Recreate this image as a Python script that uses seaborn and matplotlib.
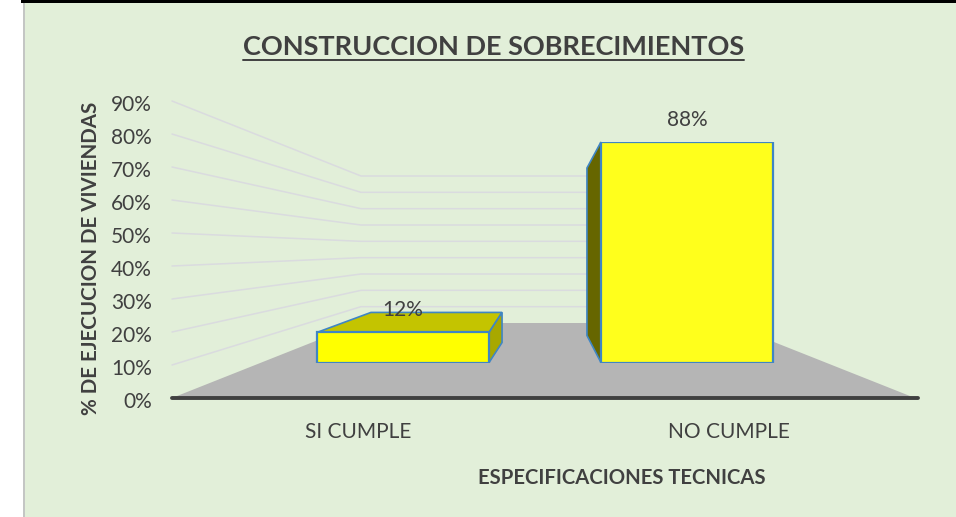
import matplotlib
matplotlib.use("Agg")
import matplotlib.pyplot as plt
from matplotlib.patches import Polygon, Rectangle
from matplotlib.transforms import ScaledTranslation
import pandas as pd
import seaborn as sns

# ---- data ----
categories = ["SI CUMPLE", "NO CUMPLE"]
values = [12, 88]
y_ticks = [0, 10, 20, 30, 40, 50, 60, 70, 80, 90]
title = "CONSTRUCCION DE SOBRECIMIENTOS"
xlabel = "ESPECIFICACIONES TECNICAS"
ylabel = "% DE EJECUCION DE VIVIENDAS"

# ---- style ----
W, H = 956, 517
BG = "#E2EFD9"
TXT = "#404040"
GRID = "#DADBDF"
FLOOR = "#B5B5B5"
EDGE = "#3F86C4"
FACES = ["#FFFF00", "#FFFF1C"]
FONT = "Lato"

sns.set_theme(style="white")
plt.rcParams["font.family"] = [FONT, "DejaVu Sans"]

fig = plt.figure(figsize=(W / 100, H / 100), dpi=100, facecolor="white")


def rect(left, top, right, bottom):
    return [left / W, 1 - bottom / H, (right - left) / W, (bottom - top) / H]


# stage in pixel coordinates: chart area, floor
stage = fig.add_axes([0, 0, 1, 1], zorder=0)
stage.set_xlim(0, W)
stage.set_ylim(H, 0)
stage.axis("off")
stage.add_patch(Rectangle((24, 2), W - 24, H - 2, fc=BG, ec="none"))
stage.add_patch(Rectangle((23, 2), 2, H - 2, fc="#C4C6C4", ec="none"))
stage.add_patch(Rectangle((21, 0), W - 21, 2.5, fc="#000000", ec="none"))

AX_L, AX_R, AX_T, AX_B = 172, 915, 101, 398
BACK_L, BACK_R, BACK_B, BACK_T = 361, 726, 323, 176
stage.add_patch(Polygon([(AX_L, AX_B), (BACK_L, BACK_B), (BACK_R, BACK_B), (AX_R, AX_B)],
                        fc=FLOOR, ec="none"))

# main axis: percentage scale on the left wall, categories on the floor edge
ax = fig.add_axes(rect(AX_L, AX_T, AX_R, AX_B), zorder=1)
ax.patch.set_alpha(0)
ax.set_xlim(-0.5, 1.5)
ax.set_ylim(0, y_ticks[-1])
ax.set_xticks(range(len(categories)), categories)
ax.set_yticks(y_ticks, [f"{t}%" for t in y_ticks])
ax.tick_params(axis="both", length=0, labelsize=15, labelcolor=TXT)
ax.tick_params(axis="y", pad=14.5)
ax.tick_params(axis="x", pad=17.2)
sns.despine(ax=ax, left=True, right=True, top=True, bottom=True)
shift = ScaledTranslation(0, -2 / 100, fig.dpi_scale_trans)
for lab in ax.get_yticklabels():
    lab.set_transform(lab.get_transform() + shift)

# grid lines on the side wall and the back wall
for t in y_ticks[1:]:
    back_y = BACK_B - (BACK_B - BACK_T) * t / y_ticks[-1]
    stage.plot([AX_L, BACK_L, BACK_R], [AX_B - (AX_B - AX_T) * t / y_ticks[-1], back_y, back_y],
               color=GRID, lw=1.1, solid_joinstyle="miter")
stage.plot([AX_L, 918], [AX_B, AX_B], color=TXT, lw=2.8, solid_capstyle="round", zorder=3)

# bars
BAR_L, BAR_R, BAR_T, BAR_B = 261, 829, 142, 362.5
bar_ax = fig.add_axes(rect(BAR_L, BAR_T, BAR_R, BAR_B), zorder=2)
bar_ax.patch.set_alpha(0)
df = pd.DataFrame({"cat": categories, "val": values})
sns.barplot(data=df, x="cat", y="val", hue="cat", palette=FACES, width=0.606,
            edgecolor=EDGE, linewidth=1.6, legend=False, ax=bar_ax, saturation=1)
bar_ax.set_xlim(-0.5, 1.5)
bar_ax.set_ylim(0, max(values))
bar_ax.axis("off")

to_stage = bar_ax.transData + stage.transData.inverted()
patches = list(bar_ax.patches)


def corners(p):
    x0, x1 = p.get_x(), p.get_x() + p.get_width()
    y0, y1 = p.get_y(), p.get_y() + p.get_height()
    (l, b), (r, t) = to_stage.transform([(x0, y0), (x1, y1)])
    return l, r, t, b


def face(pts, color):
    bar_ax.add_patch(Polygon(pts, closed=True, fc=color, ec=EDGE, lw=1.2, zorder=0.5,
                             transform=stage.transData, clip_on=False))


l, r, t, b = corners(patches[0])
face([(l, t), (l + 54, t - 20), (r + 13, t - 20), (r, t)], "#C4C400")
face([(r, t), (r + 13, t - 20), (r + 13, b - 20), (r, b)], "#A8A800")
l, r, t, b = corners(patches[1])
face([(l, t), (l - 14, t + 26), (l - 14, b - 27), (l, b)], "#666600")

for c in bar_ax.containers:
    bar_ax.bar_label(c, fmt="%.0f%%", padding=9, fontsize=15, color=TXT, clip_on=False)

# titles
title_txt = fig.text(493.5 / W, 1 - 47 / H, title, ha="center", va="center",
                     fontsize=19.5, fontweight="bold", color=TXT)
stage.plot([243, 744], [59.5, 59.5], color=TXT, lw=1.4)
fig.text(622 / W, 1 - 478 / H, xlabel, ha="center", va="center",
         fontsize=14.6, fontweight="bold", color=TXT)
fig.text(91 / W, 1 - 258.5 / H, ylabel, ha="center", va="center", rotation=90,
         fontsize=14.8, fontweight="bold", color=TXT)

fig.savefig("out.png", dpi=100, facecolor=fig.get_facecolor())
